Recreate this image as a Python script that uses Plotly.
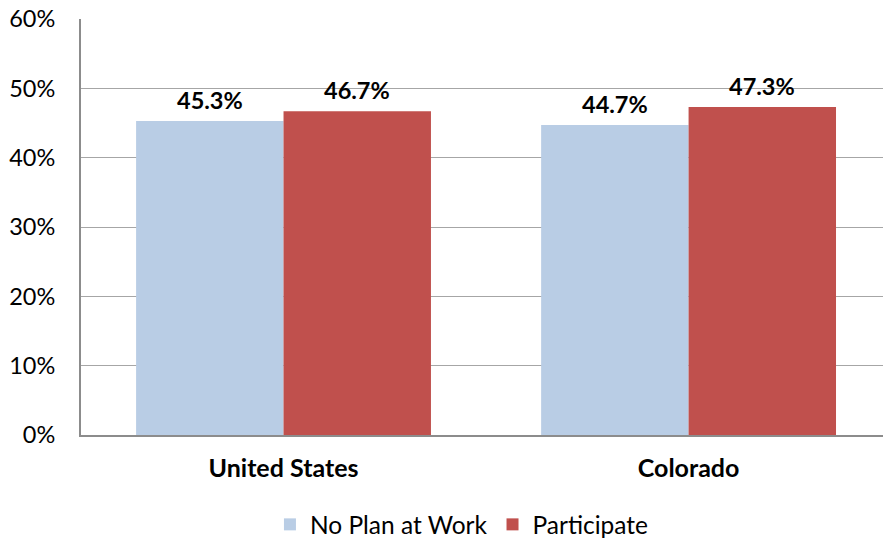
import plotly.graph_objects as go

categories = ["United States", "Colorado"]
no_plan = [45.3, 44.7]
participate = [46.7, 47.3]
series_names = ["No Plan at Work", "Participate"]
y_ticks = [0, 10, 20, 30, 40, 50, 60]
y_tick_labels = [f"{t}%" for t in y_ticks]

colors = ["#b9cde5", "#c0504d"]
font_family = "Lato, 'Open Sans', sans-serif"
bar_gap = 0.272

fig = go.Figure()
for name, vals, col in zip(series_names, [no_plan, participate], colors):
    fig.add_trace(go.Bar(
        name=name, x=categories, y=vals, marker=dict(color=col, line=dict(width=0)),
        hoverinfo="skip",
    ))

# value labels above each bar
half = (1 - bar_gap) / 4
for vals, off in [(no_plan, -1), (participate, 1)]:
    for j, v in enumerate(vals):
        fig.add_annotation(
            x=j + off * half, y=v, xref="x", yref="y",
            text=f"<b>{v:.1f}%</b>", showarrow=False,
            yanchor="bottom", yshift=5,
            font=dict(family=font_family, size=23.5, color="#000000"),
        )

fig.update_layout(
    width=883, height=541,
    margin=dict(l=81, r=0, t=19, b=106, autoexpand=False),
    plot_bgcolor="white", paper_bgcolor="white",
    barmode="group", bargap=bar_gap, bargroupgap=0,
    font=dict(family=font_family, size=24, color="#000000"),
    showlegend=True,
    legend=dict(
        orientation="h", x=0.475, xanchor="center", y=-0.215, yanchor="middle",
        font=dict(family=font_family, size=24.5, color="#000000"),
        traceorder="normal",
    ),
)
fig.update_xaxes(
    type="category", range=[-0.5, 1.48],
    showline=True, linecolor="#8c8c8c", linewidth=2,
    tickfont=dict(family=font_family, size=25, color="#000000"),
    ticktext=[f"<b>{c}</b>" for c in categories], tickvals=categories,
    ticks="", ticklabelstandoff=10, automargin=False,
)
fig.update_yaxes(
    range=[0, 60], tickvals=y_ticks, ticktext=y_tick_labels,
    showgrid=True, gridcolor="#a6a6a6", gridwidth=1.3,
    showline=True, linecolor="#8c8c8c", linewidth=2,
    tickfont=dict(family=font_family, size=23.5, color="#000000"),
    ticks="", ticklabelstandoff=19, zeroline=False, automargin=False,
)

fig.write_html("out.html")
